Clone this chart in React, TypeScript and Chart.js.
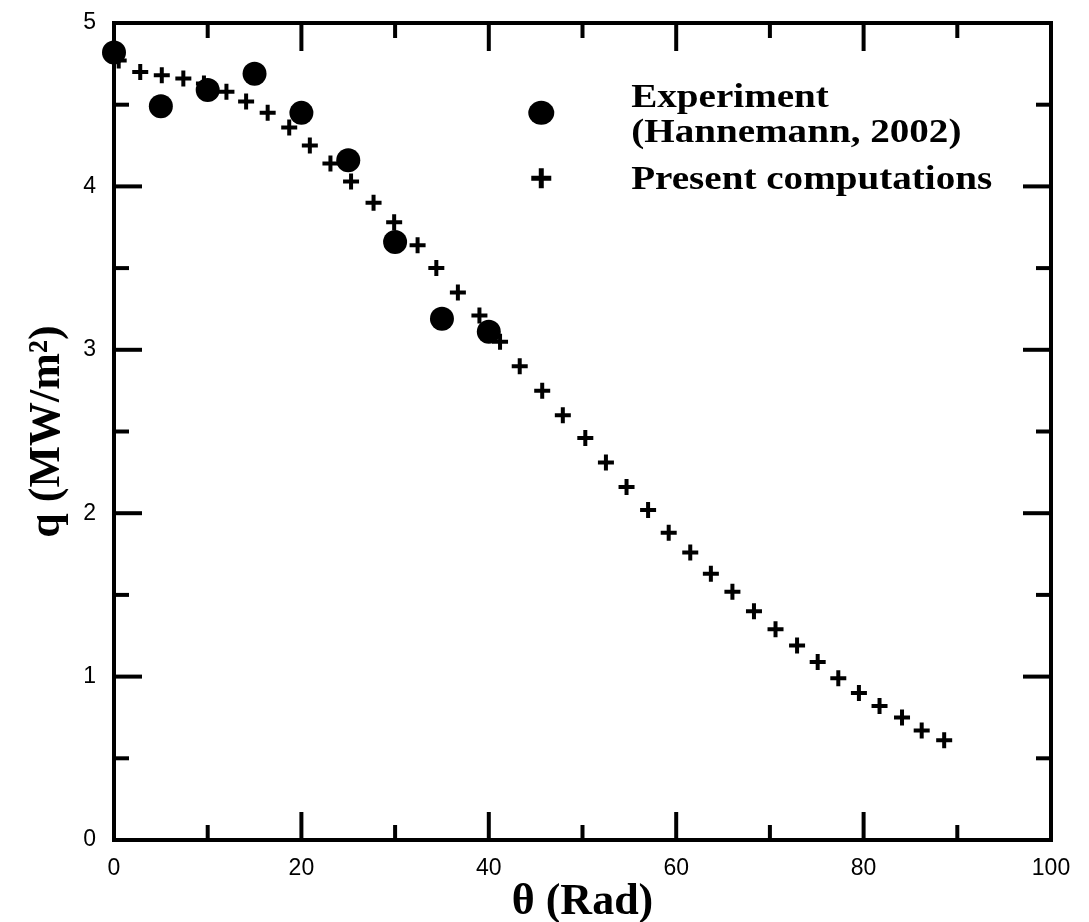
import React, { useEffect, useRef } from "react";
import { Chart, registerables } from "chart.js";

Chart.register(...registerables);

// ---- data ----
const experimentTheta = [0, 5, 10, 15, 20, 25, 30, 35, 40];
const experimentQ = [4.82, 4.49, 4.59, 4.69, 4.45, 4.16, 3.66, 3.19, 3.11];

const computedTheta = [
  0.5, 2.8, 5.1, 7.4, 9.6, 12.0, 14.1, 16.4, 18.7, 20.9, 23.1, 25.3, 27.7, 29.9,
  32.4, 34.4, 36.7, 39.0, 41.2, 43.3, 45.7, 47.9, 50.3, 52.5, 54.7, 57.0, 59.2,
  61.5, 63.7, 66.0, 68.3, 70.6, 72.9, 75.1, 77.3, 79.5, 81.7, 84.1, 86.2, 88.6,
];
const computedQ = [
  4.77, 4.7, 4.68, 4.66, 4.63, 4.58, 4.52, 4.45, 4.36, 4.25, 4.14, 4.03, 3.9,
  3.78, 3.64, 3.5, 3.35, 3.21, 3.05, 2.9, 2.75, 2.6, 2.46, 2.31, 2.16, 2.02, 1.88,
  1.76, 1.63, 1.52, 1.4, 1.29, 1.19, 1.09, 0.99, 0.9, 0.82, 0.75, 0.67, 0.61,
];

const xTicks = [0, 20, 40, 60, 80, 100];
const yTicks = [0, 1, 2, 3, 4, 5];
const xMinorStep = 10;
const yMinorStep = 0.5;

const legendLabels = ["Experiment", "(Hannemann, 2002)", "Present computations"];
const xTitle = "θ (Rad)";
const yTitle = "q (MW/m²)";

const SERIF = '"Liberation Serif", "Times New Roman", serif';
const SANS = '"Liberation Sans", Arial, sans-serif';

const framePlugin = {
  id: "frameTicks",
  beforeDatasetsDraw(chart: any) {
    const { ctx, chartArea, scales } = chart;
    const { left, right, top, bottom } = chartArea;
    const xs = scales.x;
    const ys = scales.y;
    ctx.save();
    ctx.strokeStyle = "#000";
    ctx.lineWidth = 4;
    ctx.lineCap = "butt";
    ctx.strokeRect(left, top, right - left, bottom - top);
    const line = (x1: number, y1: number, x2: number, y2: number) => {
      ctx.beginPath();
      ctx.moveTo(x1, y1);
      ctx.lineTo(x2, y2);
      ctx.stroke();
    };
    for (let v = xs.min; v <= xs.max + 1e-9; v += xMinorStep) {
      const px = xs.getPixelForValue(v);
      const len = xTicks.includes(Math.round(v)) ? 28 : 15;
      line(px, bottom, px, bottom - len);
      line(px, top, px, top + len);
    }
    for (let v = ys.min; v <= ys.max + 1e-9; v += yMinorStep) {
      const py = ys.getPixelForValue(v);
      const len = yTicks.includes(v) ? 28 : 15;
      line(left, py, left + len, py);
      line(right, py, right - len, py);
    }
    ctx.restore();
  },
};

const legendPlugin = {
  id: "customLegend",
  afterDraw(chart: any) {
    const { ctx, scales } = chart;
    const xs = scales.x;
    const ys = scales.y;
    const markX = xs.getPixelForValue(45.6);
    const textX = xs.getPixelForValue(55.2);
    const row1 = ys.getPixelForValue(4.45);
    const row2 = ys.getPixelForValue(4.05);
    ctx.save();
    ctx.fillStyle = "#000";
    ctx.strokeStyle = "#000";
    // circle marker
    ctx.beginPath();
    ctx.ellipse(markX, row1, 13, 12, 0, 0, Math.PI * 2);
    ctx.fill();
    // cross marker
    ctx.lineWidth = 5;
    ctx.beginPath();
    ctx.moveTo(markX - 10, row2);
    ctx.lineTo(markX + 10, row2);
    ctx.moveTo(markX, row2 - 10);
    ctx.lineTo(markX, row2 + 10);
    ctx.stroke();
    // texts (slightly wide like the reference)
    ctx.font = `bold 34px ${SERIF}`;
    ctx.textBaseline = "alphabetic";
    ctx.textAlign = "left";
    const put = (t: string, x: number, y: number) => {
      ctx.save();
      ctx.translate(x, y);
      ctx.scale(1.15, 1);
      ctx.fillText(t, 0, 0);
      ctx.restore();
    };
    put(legendLabels[0], textX, row1 - 6);
    put(legendLabels[1], textX, row1 + 29);
    put(legendLabels[2], textX, row2 + 11);
    ctx.restore();
  },
};

export default function App() {
  const ref = useRef<HTMLCanvasElement | null>(null);

  useEffect(() => {
    if (!ref.current) return;
    const chart = new Chart(ref.current, {
      type: "scatter",
      data: {
        datasets: [
          {
            label: "Present computations",
            data: computedTheta.map((t, i) => ({ x: t, y: computedQ[i] })),
            pointStyle: "cross",
            pointRadius: 8,
            pointHoverRadius: 8,
            borderColor: "#000",
            backgroundColor: "#000",
            pointBorderWidth: 4,
            borderWidth: 4,
            clip: false as any,
          },
          {
            label: "Experiment (Hannemann, 2002)",
            data: experimentTheta.map((t, i) => ({ x: t, y: experimentQ[i] })),
            pointStyle: "circle",
            pointRadius: 12,
            pointHoverRadius: 12,
            borderColor: "#000",
            backgroundColor: "#000",
            pointBorderWidth: 0,
            clip: false as any,
          },
        ],
      },
      options: {
        animation: false,
        responsive: false,
        devicePixelRatio: 1,
        events: [],
        layout: { padding: { top: 23, right: 38, left: 0, bottom: 0 } },
        plugins: {
          legend: { display: false },
          tooltip: { enabled: false },
        },
        scales: {
          x: {
            type: "linear",
            min: 0,
            max: 100,
            afterBuildTicks: (s: any) => {
              s.ticks = xTicks.map((v) => ({ value: v }));
            },
            afterFit: (s: any) => {
              s.height = 82;
              s.paddingLeft = 0;
              s.paddingRight = 0;
            },
            grid: { display: false, drawTicks: false },
            border: { display: false },
            ticks: {
              color: "#000",
              padding: 15,
              maxRotation: 0,
              font: { family: SANS, size: 23 },
            },
            title: {
              display: true,
              text: xTitle,
              color: "#000",
              font: { family: SERIF, size: 44, weight: "bold", lineHeight: 0.9 },
              padding: { top: 0, bottom: 0 },
            },
          },
          y: {
            type: "linear",
            min: 0,
            max: 5,
            afterBuildTicks: (s: any) => {
              s.ticks = yTicks.map((v) => ({ value: v }));
            },
            afterFit: (s: any) => {
              s.width = 114;
              s.paddingTop = 0;
              s.paddingBottom = 0;
            },
            grid: { display: false, drawTicks: false },
            border: { display: false },
            ticks: {
              color: "#000",
              padding: 18,
              font: { family: SANS, size: 23 },
            },
            title: {
              display: true,
              text: yTitle,
              color: "#000",
              font: { family: SERIF, size: 44, weight: "bold", lineHeight: 1.2 },
              padding: { top: 21, bottom: 0 },
            },
          },
        },
      },
      plugins: [framePlugin, legendPlugin],
    });
    return () => chart.destroy();
  }, []);

  return (
    <canvas
      ref={ref}
      width={1089}
      height={922}
      style={{ position: "absolute", left: 0, top: 0, display: "block" }}
    />
  );
}
